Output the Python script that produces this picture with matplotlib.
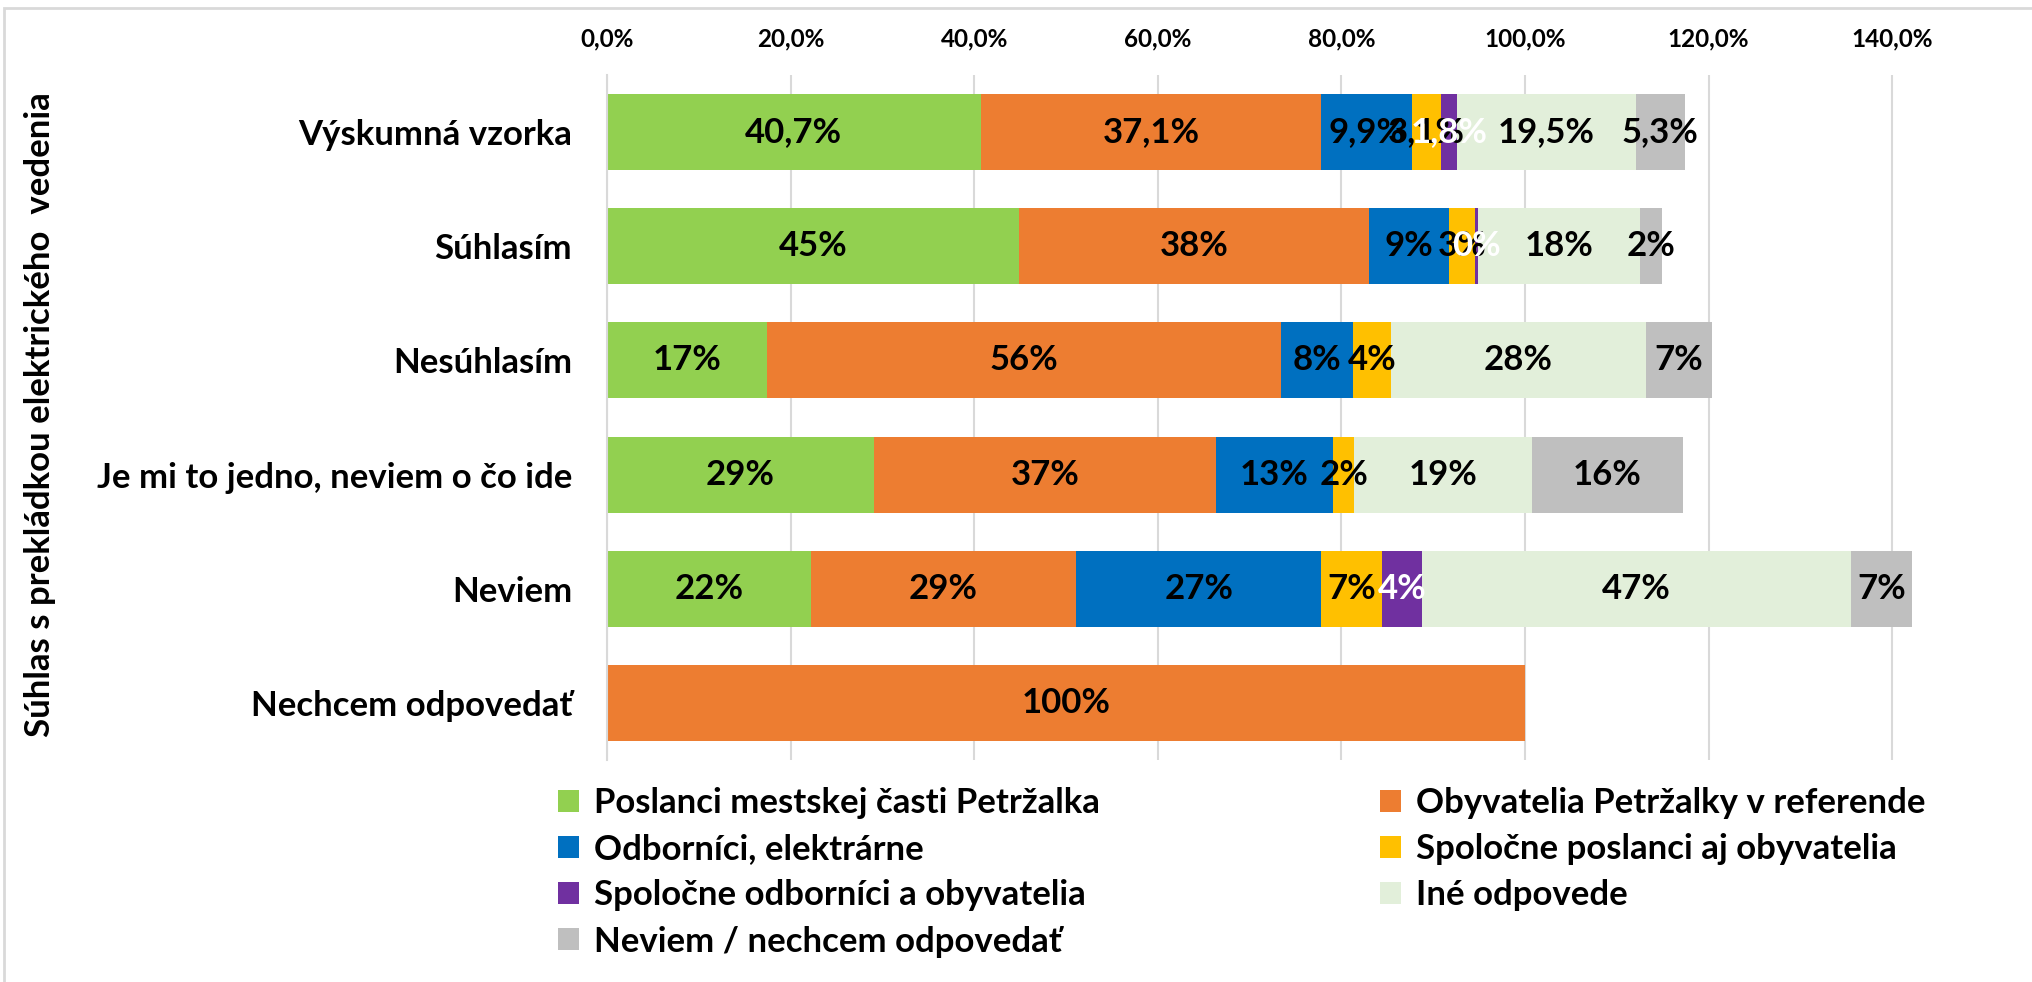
import numpy as np
import matplotlib.pyplot as plt
from matplotlib.patches import Patch, Rectangle

plt.rcParams['font.family'] = ['Lato', 'DejaVu Sans']
plt.rcParams['font.weight'] = 'bold'

# Categories (top to bottom)
categories = ['Výskumná vzorka', 'Súhlasím', 'Nesúhlasím',
              'Je mi to jedno, neviem o čo ide', 'Neviem', 'Nechcem odpovedať']

# Series values in percent, one list per series (same order as categories)
poslanci = [40.7, 44.9, 17.4, 29.1, 22.2, 0]
obyvatelia = [37.1, 38.1, 56.0, 37.2, 28.9, 100]
odbornici = [9.9, 8.7, 7.9, 12.8, 26.7, 0]
spolocne_po = [3.1, 2.9, 4.1, 2.3, 6.6, 0]
spolocne_oo = [1.8, 0.3, 0, 0, 4.4, 0]
ine = [19.5, 17.6, 27.8, 19.4, 46.7, 0]
neviem = [5.3, 2.4, 7.2, 16.4, 6.7, 0]

series_names = ['Poslanci mestskej časti Petržalka', 'Obyvatelia Petržalky v referende',
                'Odborníci, elektrárne', 'Spoločne poslanci aj obyvatelia',
                'Spoločne odborníci a obyvatelia', 'Iné odpovede',
                'Neviem / nechcem odpovedať']
series_values = [poslanci, obyvatelia, odbornici, spolocne_po, spolocne_oo, ine, neviem]
colors = ['#92D050', '#ED7D31', '#0070C0', '#FFC000', '#7030A0', '#E2EFDA', '#BFBFBF']
label_colors = ['black', 'black', 'black', 'black', 'white', 'black', 'black']
label_decimals = [1, 0, 0, 0, 0, 0]  # first row shows one decimal

x_ticks = [0, 20, 40, 60, 80, 100, 120, 140]

W, H = 2033, 982
fig = plt.figure(figsize=(W / 100, H / 100), dpi=100)
ax = fig.add_axes([607 / W, 1 - 760 / H, (150 * 9.18) / W, (760 - 75) / H])

y = np.arange(len(categories))
left = np.zeros(len(categories))
for vals, col, lc in zip(series_values, colors, label_colors):
    vals = np.array(vals, dtype=float)
    ax.barh(y, vals, left=left, height=0.667, color=col, zorder=2)
    for i, v in enumerate(vals):
        if v > 0:
            txt = f"{v:.{label_decimals[i]}f}%".replace('.', ',')
            ax.text(left[i] + v / 2, y[i], txt, ha='center', va='center',
                    fontsize=25, fontweight='bold', color=lc, zorder=3)
    left += vals

ax.set_xlim(0, 150)
ax.set_ylim(len(categories) - 0.5, -0.5)
ax.xaxis.tick_top()
ax.set_xticks(x_ticks)
ax.set_xticklabels([f"{t:.1f}%".replace('.', ',') for t in x_ticks], fontsize=17.5)
ax.set_yticks(y)
ax.set_yticklabels(categories, fontsize=25)
ax.tick_params(axis='x', length=0, pad=18)
ax.tick_params(axis='y', length=0, pad=25)
ax.grid(axis='x', color='#D9D9D9', lw=1.5, zorder=0)
ax.set_axisbelow(True)
for s in ['top', 'right', 'bottom']:
    ax.spines[s].set_visible(False)
ax.spines['left'].set_color('#D9D9D9')
ax.spines['left'].set_linewidth(1.5)

fig.text(40 / W, 1 - 415 / H, 'Súhlas s prekládkou elektrického  vedenia',
         rotation=90, ha='center', va='center', fontsize=25, fontweight='bold')

# legend: Excel fills rows, matplotlib fills columns -> reorder
handles = [Patch(facecolor=c) for c in colors]
order = [0, 2, 4, 6, 1, 3, 5]
fig.legend([handles[i] for i in order], [series_names[i] for i in order],
           ncol=2, loc='upper left', bbox_to_anchor=(558 / W, 1 - 787 / H),
           frameon=False, fontsize=25, handlelength=0.6, handleheight=0.6,
           handletextpad=0.45, labelspacing=0.41, columnspacing=8.05,
           borderpad=0, borderaxespad=0)

# chart border
fig.patches.append(Rectangle((4 / W, -0.1), 1.2, 1.1 - 8 / H, transform=fig.transFigure,
                             fill=False, edgecolor='#D9D9D9', lw=2))

fig.savefig('out.png', dpi=100)
